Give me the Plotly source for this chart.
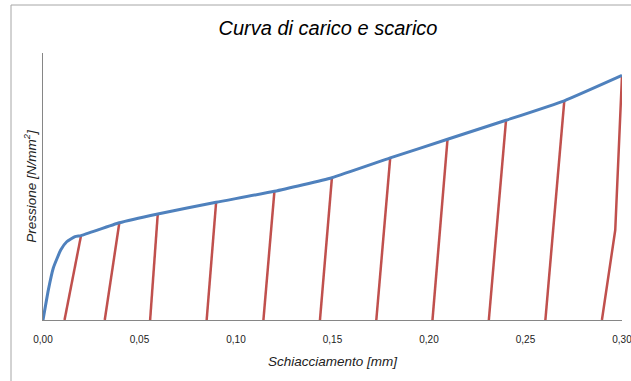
import plotly.graph_objects as go

# Loading curve (Schiacciamento [mm], Pressione [arbitrary units])
load_x = [0.0, 0.00275, 0.00534, 0.00917, 0.01229, 0.01659, 0.0197, 0.03955, 0.05946,
          0.0897, 0.1199, 0.1497, 0.1799, 0.2096, 0.2399, 0.2701, 0.300]
load_y = [0.0, 11.2, 19.5, 26.2, 29.3, 31.2, 31.6, 36.4, 39.7,
          44.1, 48.2, 53.3, 60.7, 67.7, 74.8, 82.1, 91.6]

# Unloading lines
unload_x = [
    [0.0197, 0.01115],
    [0.03955, 0.0320],
    [0.05946, 0.0555],
    [0.0897, 0.0848],
    [0.1199, 0.1142],
    [0.1497, 0.1435],
    [0.1799, 0.1727],
    [0.2096, 0.2018],
    [0.2399, 0.2310],
    [0.2701, 0.2603],
    [0.300, 0.2965, 0.2896],
]
unload_y = [
    [31.6, 0], [36.4, 0], [39.7, 0], [44.1, 0], [48.2, 0], [53.3, 0],
    [60.7, 0], [67.7, 0], [74.8, 0], [82.1, 0], [91.6, 33.7, 0],
]

x_ticks = [0.0, 0.05, 0.10, 0.15, 0.20, 0.25, 0.30]

W, H = 631, 381
ml, mr, mt, mb = 43, 9, 53, 61

fig = go.Figure()
for ux, uy in zip(unload_x, unload_y):
    fig.add_trace(go.Scatter(x=ux, y=uy, mode="lines",
                             line=dict(color="#C0504D", width=2.5),
                             showlegend=False, hoverinfo="skip"))
fig.add_trace(go.Scatter(x=load_x, y=load_y, mode="lines",
                         line=dict(color="#4F81BD", width=3, shape="spline", smoothing=0.4),
                         showlegend=False))

pw = W - ml - mr
ph = H - mt - mb
bx0 = (11 - ml) / pw
by1 = 1 + (mt - 5) / ph
fig.add_shape(type="rect", xref="paper", yref="paper",
              x0=bx0, x1=1 + (mr + 20) / pw, y0=-(mb + 20) / ph, y1=by1,
              line=dict(color="#A6A6A6", width=1), fillcolor="rgba(0,0,0,0)", layer="below")

fig.update_layout(
    width=W, height=H,
    margin=dict(l=ml, r=mr, t=mt, b=mb, autoexpand=False),
    paper_bgcolor="white", plot_bgcolor="white",
    separators=",.",
    font=dict(family="Liberation Sans, Arial, sans-serif", color="#222222"),
    title=dict(text="<i>Curva di carico e scarico</i>",
               x=328 / W, xanchor="center", y=1 - 28 / H, yanchor="middle",
               font=dict(size=20, color="#000000")),
    xaxis=dict(range=[0, 0.30], tickvals=x_ticks, tickformat=".2f", automargin=False,
               ticklabeloverflow="allow",
               showgrid=False, zeroline=False, showline=True, linecolor="#868686",
               linewidth=1, ticks="outside", ticklen=10, tickcolor="rgba(0,0,0,0)",
               tickfont=dict(size=10, color="#222222"),
               title=dict(text="<i>Schiacciamento [mm]</i>", standoff=12,
                          font=dict(size=13.5, color="#222222"))),
    yaxis=dict(range=[0, 100], showticklabels=False, showgrid=False, zeroline=False,
               showline=True, linecolor="#868686", linewidth=1, ticks="", automargin=False,
               title=dict(text="<i>Pressione [N/mm<sup>2</sup>]</i>", standoff=2,
                          font=dict(size=13.5, color="#222222"))),
)

fig.write_html("out.html")
